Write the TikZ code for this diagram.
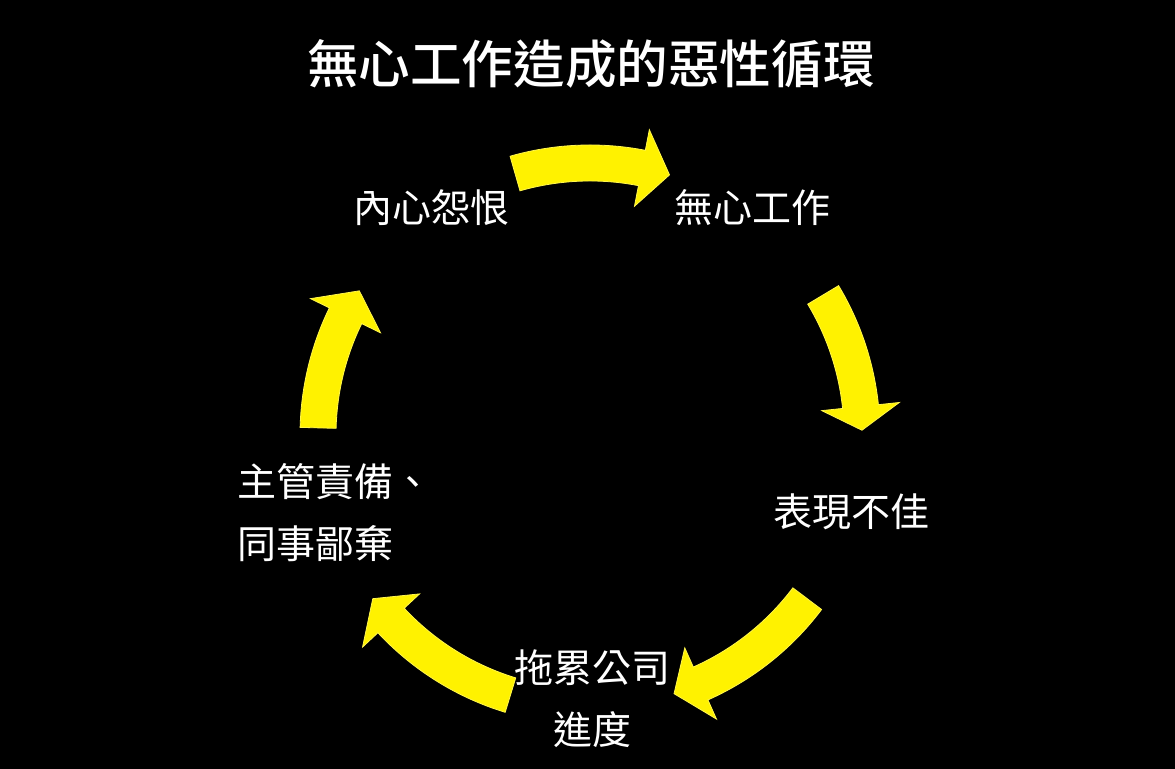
\documentclass[tikz,border=0pt]{standalone}
\usepackage{fontspec}
\newfontfamily\cjk{Noto Sans CJK TC}
\newfontfamily\cjkmed{Noto Sans CJK TC Medium}
\newcommand\cyclearrow[3]{%
  \fill[yarrow] (#1:290) arc[start angle=#1, end angle=#2, radius=290]
    -- (#2:311) -- (#3:272) -- (#2:233) -- (#2:254)
    arc[start angle=#2, end angle=#1, radius=254] -- cycle;}
\begin{document}
\begin{tikzpicture}[x=0.5pt,y=0.5pt,
  lbl/.style={text=white, font=\cjk\fontsize{19.5}{31}\selectfont, inner sep=0pt},
  yarrow/.style={fill=yellow, draw=yellow!70!white, line width=0.4pt, line join=miter}]
\fill[black] (0,0) rectangle (1175,769);
\useasboundingbox (0,0) rectangle (1175,769);

\node[text=white, inner sep=0pt, font=\cjkmed\fontsize{25.8}{30}\selectfont] (title) at (591,705.5) {無心工作造成的惡性循環};

\node[lbl] (resent) at (431,561) {內心怨恨};
\node[lbl] (careless) at (752,561) {無心工作};
\node[lbl] (poor) at (851,257) {表現不佳};
\node[lbl, align=center] (delay) at (592,70) {拖累公司\\進度};
\node[lbl, align=left, anchor=west] (blame) at (237,256) {主管責備、\\同事鄙棄};

\begin{scope}[shift={(590,334)}]
  \cyclearrow{106}{79}{73}
  \cyclearrow{31}{6}{1}
  \cyclearrow{-37}{-66}{-72}
  \cyclearrow{-107}{-137}{-143}
  \cyclearrow{178.5}{154}{148}
\end{scope}
\end{tikzpicture}
\end{document}
